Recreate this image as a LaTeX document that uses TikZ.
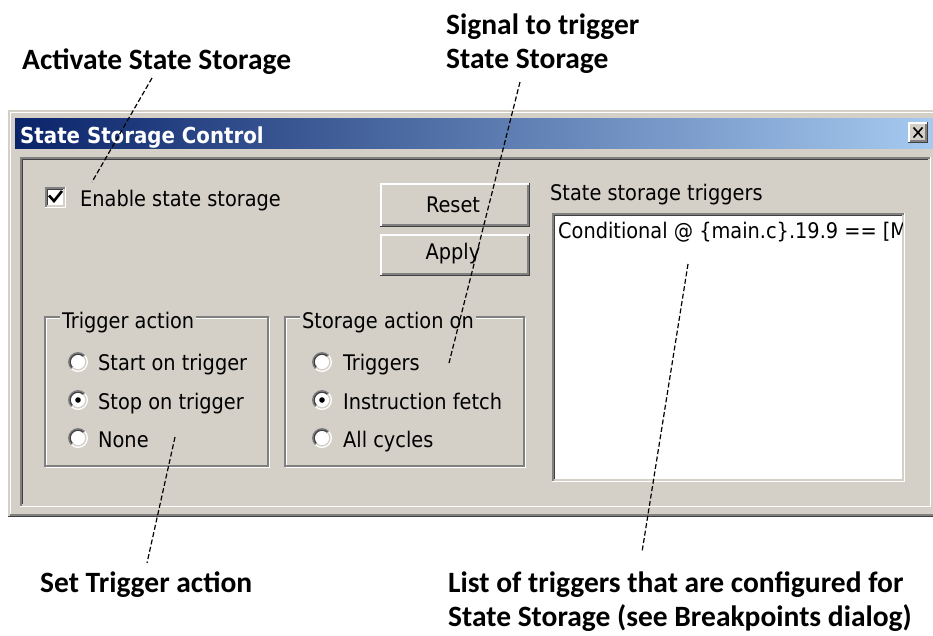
\documentclass[tikz,border=0pt]{standalone}
\usepackage{fontspec}
\IfFontExistsTF{DejaVu Sans Condensed}
  {\newfontfamily\uifont{DejaVu Sans Condensed}\def\uisz{21.5}}
  {\newfontfamily\uifont{DejaVu Sans}\def\uisz{19}}
\newfontfamily\callfont{Carlito}
\newcommand\uitext{\uifont\fontsize{\uisz}{\uisz}\selectfont}
\newcommand\titletext{\uifont\bfseries\fontsize{22}{22}\selectfont}
\newcommand\calltext{\callfont\bfseries\fontsize{29.5}{34}\selectfont}
\definecolor{winbg}{HTML}{D4D0C8}
\definecolor{shadow}{HTML}{808080}
\definecolor{dkshadow}{HTML}{404040}
\definecolor{titleL}{HTML}{0A246A}
\definecolor{titleR}{HTML}{A6CAF0}
\newcommand\uiRaised[4]{%
  \fill[dkshadow] (#1,#2) rectangle (#3,#4);
  \fill[white] (#1,#2) rectangle (#3-1.5,#4-1.5);
  \fill[shadow] (#1+1.5,#2+1.5) rectangle (#3-1.5,#4-1.5);
  \fill[winbg] (#1+1.5,#2+1.5) rectangle (#3-3,#4-3);}
\newcommand\uiSunken[5]{%
  \fill[white] (#1,#2) rectangle (#3,#4);
  \fill[shadow] (#1,#2) rectangle (#3-1.5,#4-1.5);
  \fill[winbg] (#1+1.5,#2+1.5) rectangle (#3-1.5,#4-1.5);
  \fill[dkshadow] (#1+1.5,#2+1.5) rectangle (#3-3,#4-3);
  \fill[#5] (#1+3,#2+3) rectangle (#3-3,#4-3);}
\newcommand\uiRadio[3]{%
  \fill[white] (#1,#2) circle (10);
  \draw[shadow,line width=1.4pt] (#1,#2) ++(135:9.3) arc[start angle=135,end angle=315,radius=9.3];
  \draw[dkshadow,line width=1.4pt] (#1,#2) ++(135:7.9) arc[start angle=135,end angle=315,radius=7.9];
  \draw[winbg,line width=1.4pt] (#1,#2) ++(-45:7.9) arc[start angle=-45,end angle=135,radius=7.9];
  \ifnum#3=1 \fill[black] (#1,#2) circle (2.8);\fi}
\tikzset{
  ui/.style={font=\uitext, text=black, inner sep=0pt},
  grouplabel/.style={font=\uitext, text=black, fill=winbg, inner xsep=2pt, inner ysep=0pt},
  callout/.style={font=\calltext, text=black, inner sep=0pt, align=left},
  calline/.style={draw=black, line width=1.2pt, dash pattern=on 5pt off 2.5pt},
}
\begin{document}
\begin{tikzpicture}[x=1pt,y=-1pt]
\useasboundingbox (0,0) rectangle (933,635);
\fill[white] (0,0) rectangle (933,635);
\begin{scope}
\clip (0,0) rectangle (933,635);
% window frame
\fill[dkshadow] (8,110) rectangle (945,517);
\fill[winbg] (8,110) rectangle (943.5,515.5);
\fill[shadow] (9.5,111.5) rectangle (943.5,515.5);
\fill[white] (9.5,111.5) rectangle (942,514);
\fill[winbg] (11,113) rectangle (942,514);
% title bar
\shade[left color=titleL, right color=titleR] (15,118) rectangle (935,148);
\node[ui, anchor=base west, text=white, font=\titletext] (title) at (20,143) {State Storage Control};
\uiRaised{908}{122}{928}{143}
\coordinate (xa) at (913.5,127.5); \coordinate (xb) at (922.5,137.5);
\coordinate (xc) at (922.5,127.5); \coordinate (xd) at (913.5,137.5);
\draw[black, line width=1.6pt] (xa) -- (xb) (xc) -- (xd);
% client panel
\uiSunken{20}{157}{931}{507}{winbg}
% checkbox
\uiSunken{45}{187}{66}{208}{white}
\draw[black, line width=2.6pt] (49,195.5) -- (54,201) -- (62,191);
\node[ui, anchor=base west] (enable) at (80,206) {Enable state storage};
% buttons
\uiRaised{380}{183}{530}{227}
\node[ui, anchor=base] (reset) at (453,212) {Reset};
\uiRaised{380}{234}{530}{276}
\node[ui, anchor=base] (apply) at (453,259) {Apply};
% list
\node[ui, anchor=base west] (trglabel) at (550,200) {State storage triggers};
\uiSunken{552}{213}{905}{482}{white}
\begin{scope}
\clip (555,216) rectangle (902,479);
\node[ui, anchor=base west] (trgitem) at (558,238) {Conditional @ \{main.c\}.19.9 == [MA};
\end{scope}
% group boxes
\draw[white, line width=1.2pt] (46.5,318.5) rectangle (269.5,467.5);
\draw[shadow, line width=1.2pt] (45,317) rectangle (268,466);
\draw[white, line width=1.2pt] (286.5,318.5) rectangle (525.5,467.5);
\draw[shadow, line width=1.2pt] (285,317) rectangle (524,466);
\node[grouplabel, anchor=base west] (gtrig) at (60,328) {Trigger action};
\node[grouplabel, anchor=base west] (gstor) at (300,328) {Storage action on};
% radios: trigger action
\uiRadio{78}{362}{0}
\uiRadio{78}{400}{1}
\uiRadio{78}{438}{0}
\node[ui, anchor=base west] (r1) at (98,370) {Start on trigger};
\node[ui, anchor=base west] (r2) at (98,409) {Stop on trigger};
\node[ui, anchor=base west] (r3) at (98,447) {None};
% radios: storage action
\uiRadio{322}{362}{0}
\uiRadio{322}{400}{1}
\uiRadio{322}{438}{0}
\node[ui, anchor=base west] (s1) at (343,370) {Triggers};
\node[ui, anchor=base west] (s2) at (343,409) {Instruction fetch};
\node[ui, anchor=base west] (s3) at (343,447) {All cycles};
\end{scope}
% callouts
\node[callout, anchor=base west] (cact) at (22,69) {Activate State Storage};
\node[callout, anchor=base west] (csig) at (446,68) {Signal to trigger\\State Storage};
\node[callout, anchor=base west] (cset) at (40,592) {Set Trigger action};
\node[callout, anchor=base west] (clist) at (448,626) {List of triggers that are configured for\\State Storage (see Breakpoints dialog)};
\coordinate (a1) at (152,78);  \coordinate (a2) at (92,182);
\coordinate (b1) at (520,82);  \coordinate (b2) at (449,363);
\coordinate (c1) at (175,437); \coordinate (c2) at (147,563);
\coordinate (d1) at (688,264); \coordinate (d2) at (642,552);
\draw[calline] (a1) -- (a2);
\draw[calline] (b1) -- (b2);
\draw[calline] (c1) -- (c2);
\draw[calline] (d1) -- (d2);
\end{tikzpicture}
\end{document}
